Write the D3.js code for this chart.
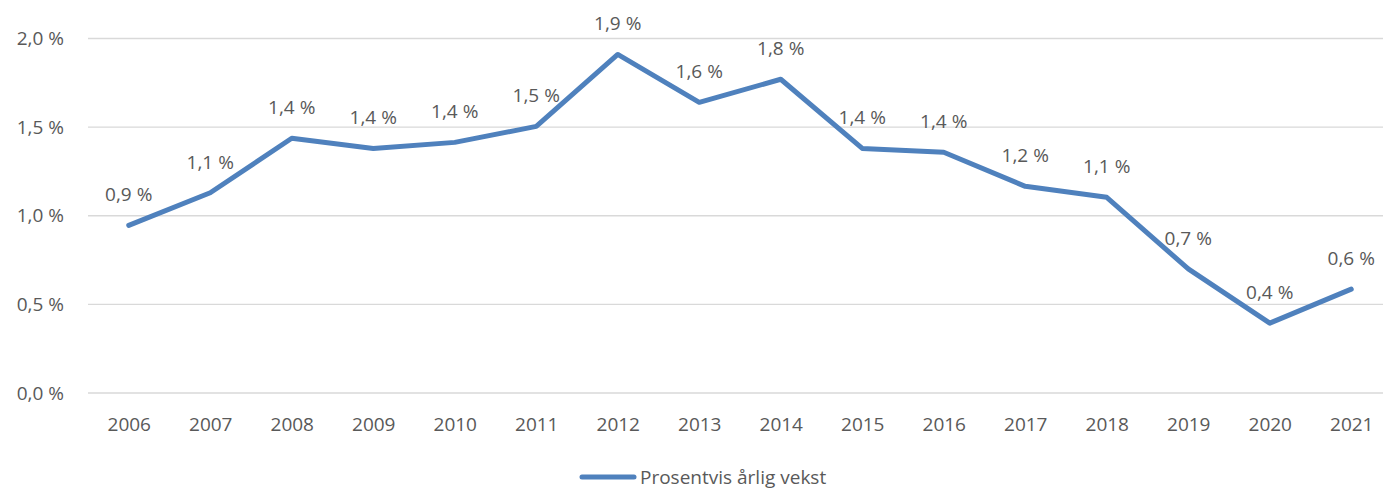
<!DOCTYPE html>
<html>
<head>
<meta charset="utf-8">
<script src="https://cdn.jsdelivr.net/npm/d3@7"></script>
<style>
  body { margin: 0; background: #fff; }
</style>
</head>
<body>
<script>
'use strict';

// data
const years = ['2006', '2007', '2008', '2009', '2010', '2011', '2012', '2013',
               '2014', '2015', '2016', '2017', '2018', '2019', '2020', '2021'];
const growth = [0.946, 1.13, 1.437, 1.38, 1.414, 1.504, 1.91, 1.64,
                1.77, 1.38, 1.358, 1.166, 1.104, 0.70, 0.394, 0.586];
const yTicks = [0, 0.5, 1.0, 1.5, 2.0];
const seriesName = 'Prosentvis årlig vekst';

const width = 1383, height = 489;
const fontFamily = "'Open Sans', 'Noto Sans', sans-serif";
const fontSize = '19px';
const textColor = '#595959';
const lineColor = '#4F81BD';

const fmt = v => d3.format('.1f')(v).replace('.', ',') + ' %';

let svg = d3.select('body')
  .append('svg')
  .attr('width', width)
  .attr('height', height)
  .style('font-family', fontFamily);

// scales
let x = d3.scalePoint()
  .domain(years)
  .range([88, 1392])
  .padding(0.5);

let y = d3.scaleLinear()
  .domain([0, 2])
  .range([393, 38.5]);

// gridlines
svg.append('g')
  .selectAll('line')
  .data(yTicks)
  .enter()
  .append('line')
    .attr('x1', 88)
    .attr('x2', width)
    .attr('y1', d => y(d))
    .attr('y2', d => y(d))
    .attr('stroke', '#d9d9d9')
    .attr('stroke-width', 1.3);

// y axis labels
let yAxis = d3.axisLeft(y)
  .tickValues(yTicks)
  .tickFormat(fmt)
  .tickSize(0)
  .tickPadding(0);
let gy = svg.append('g')
  .attr('transform', 'translate(64, 0)')
  .call(yAxis);
gy.select('.domain').remove();
gy.selectAll('text')
  .attr('fill', textColor)
  .style('font-size', fontSize)
  .style('font-family', fontFamily);

// x axis labels
let xAxis = d3.axisBottom(x).tickSize(0).tickPadding(0);
let gx = svg.append('g')
  .attr('transform', 'translate(0, 417)')
  .call(xAxis);
gx.select('.domain').remove();
gx.selectAll('text')
  .attr('fill', textColor)
  .style('font-size', fontSize)
  .style('font-family', fontFamily);

// line
let line = d3.line()
  .x((d, i) => x(years[i]))
  .y(d => y(d));

svg.append('path')
  .datum(growth)
  .attr('d', line)
  .attr('fill', 'none')
  .attr('stroke', lineColor)
  .attr('stroke-width', 5)
  .attr('stroke-linejoin', 'round')
  .attr('stroke-linecap', 'round');

// data labels
svg.append('g')
  .selectAll('text')
  .data(growth)
  .enter()
  .append('text')
    .attr('x', (d, i) => x(years[i]))
    .attr('y', d => y(d) - 24)
    .attr('text-anchor', 'middle')
    .attr('fill', textColor)
    .style('font-size', fontSize)
    .text(d => fmt(d));

// legend
let legend = svg.append('g');
legend.append('line')
  .attr('x1', 582)
  .attr('x2', 634)
  .attr('y1', 477)
  .attr('y2', 477)
  .attr('stroke', lineColor)
  .attr('stroke-width', 5)
  .attr('stroke-linecap', 'round');
legend.append('text')
  .attr('x', 640)
  .attr('y', 484)
  .attr('fill', textColor)
  .style('font-size', fontSize)
  .text(seriesName);
</script>
</body>
</html>
